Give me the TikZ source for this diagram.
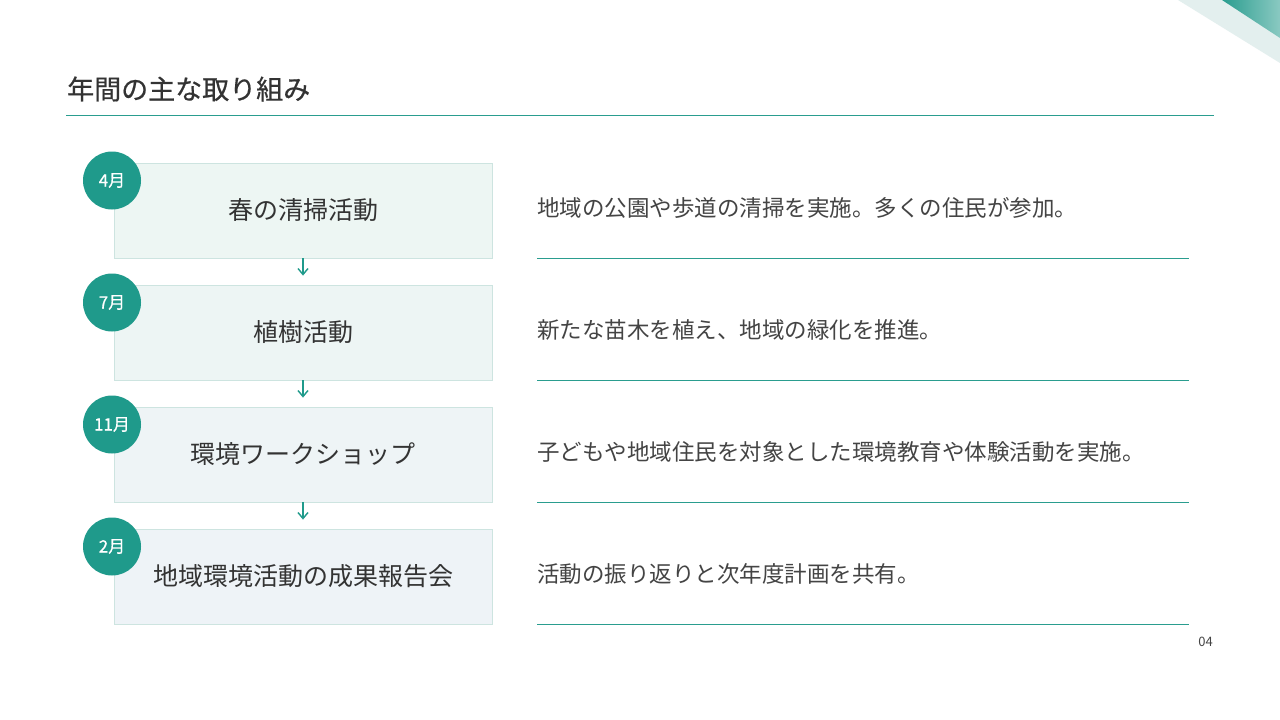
\documentclass[tikz,border=0pt]{standalone}
\usepackage{fontspec}
\usepackage{xcolor}
\usetikzlibrary{positioning, arrows.meta}
\newfontfamily\jp{Noto Sans CJK JP}
\newfontfamily\jpbold[FakeBold=0.6]{Noto Sans CJK JP}
\definecolor{tealdark}{HTML}{1F9A8B}
\definecolor{tealrule}{HTML}{2A9D8F}
\definecolor{boxA}{HTML}{EDF6F3}
\definecolor{boxB}{HTML}{EEF3F7}
\definecolor{boxline}{HTML}{CDE4E0}
\definecolor{ink}{HTML}{333333}
\definecolor{inksoft}{HTML}{444444}
\definecolor{bandlight}{HTML}{E3EFEE}

\begin{document}
\begin{tikzpicture}[x=1pt,y=-1pt,
 box/.style={draw=boxline, line width=0.8pt, minimum width=378pt, minimum height=95pt, inner sep=0pt, text=ink, font=\jp\fontsize{25}{30}\selectfont},
 badge/.style={circle, fill=tealdark, minimum size=58pt, inner sep=0pt, text=white, font=\jpbold\fontsize{17}{20}\selectfont},
 desc/.style={anchor=west, inner sep=0pt, text=inksoft, font=\jp\fontsize{22.5}{26}\selectfont},
 rule/.style={tealrule, line width=1pt},
 flow/.style={tealdark, line width=1.4pt, -{Straight Barb[length=6pt,width=10pt]}, shorten >=9pt}]
 \useasboundingbox (0,0) rectangle (1280,720);
 \fill[white] (0,0) rectangle (1280,720); % background
 % corner bands
 \fill[bandlight] (1178,0) -- (1280,63) -- (1280,0) -- cycle;
 \shade[left color=tealrule, right color=tealrule!55] (1222,0) -- (1280,38) -- (1280,0) -- cycle;
 % title
 \node[anchor=west, inner sep=0pt, text=ink, font=\jpbold\fontsize{27}{32}\selectfont] (title) at (67,89) {年間の主な取り組み};
 \draw[rule] (66,115.5) -- (1214,115.5);
 % rows
 \foreach \i/\m/\t/\d [evaluate=\i as \y using 210.5+122*(\i-1), evaluate=\i as \p using int((\i-1)*33)] in {
 1/4月/春の清掃活動/地域の公園や歩道の清掃を実施。多くの住民が参加。,
 2/7月/植樹活動/新たな苗木を植え、地域の緑化を推進。,
 3/11月/環境ワークショップ/子どもや地域住民を対象とした環境教育や体験活動を実施。,
 4/2月/地域環境活動の成果報告会/活動の振り返りと次年度計画を共有。}
 {\node[box, fill=boxB!\p!boxA] (box\i) at (303,\y) {\t};
 \node[badge] (badge\i) at (112,\y-30) {\m};
 \node[desc] (desc\i) at (537,\y-2.5) {\d};
 \draw[rule] (537,\y+48) -- (1189,\y+48);} % description underline
 \foreach \i/\j in {1/2,2/3,3/4}
 {\draw[flow] (box\i) -- (box\j);} % arrows between boxes
 \node[anchor=east, inner sep=0pt, text=inksoft, font=\jp\fontsize{13}{15}\selectfont] (page) at (1213,642) {04};
\end{tikzpicture}
\end{document}
